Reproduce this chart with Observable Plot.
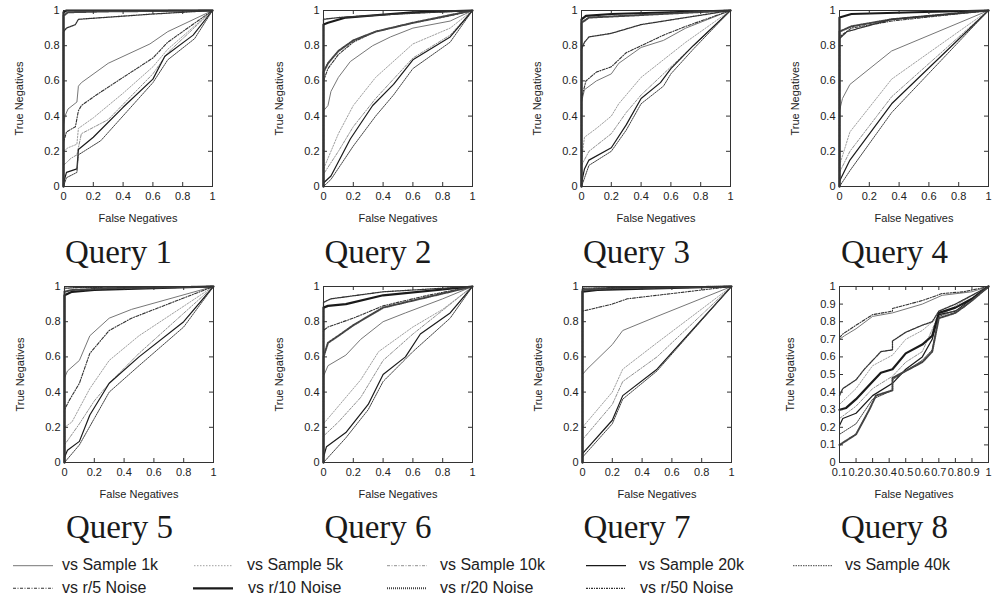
<!DOCTYPE html>
<html><head><meta charset="utf-8">
<script src="https://cdn.jsdelivr.net/npm/d3@7"></script>
<script src="https://cdn.jsdelivr.net/npm/@observablehq/plot@0.6"></script>
<style>
body{margin:0;background:#fff;}
#root{position:relative;width:993px;height:601px;overflow:hidden;}
.panel{position:absolute;}
#overlay{position:absolute;left:0;top:0;}
</style></head>
<body><div id="root"></div>
<script>
// Series (legend order)
const seriesNames = ["vs Sample 1k","vs Sample 5k","vs Sample 10k","vs Sample 20k","vs Sample 40k","vs r/5 Noise","vs r/10 Noise","vs r/20 Noise","vs r/50 Noise"];
const queryLabels = ["Query 1","Query 2","Query 3","Query 4","Query 5","Query 6","Query 7","Query 8"];
const axisXLabel = "False Negatives";
const axisYLabel = "True Negatives";
const ticksCoarse = [0, 0.2, 0.4, 0.6, 0.8, 1];
const ticksFineX = [0.1, 0.2, 0.3, 0.4, 0.5, 0.6, 0.7, 0.8, 0.9, 1];
const ticksFineY = [0, 0.1, 0.2, 0.3, 0.4, 0.5, 0.6, 0.7, 0.8, 0.9, 1];

// Curves per query, in series order: [FN, TN] points
const query1 = [
  [[0,0],[0,0.35],[0.01,0.40],[0.03,0.44],[0.09,0.48],[0.1,0.57],[0.12,0.59],[0.3,0.70],[0.58,0.81],[0.7,0.88],[1,1]],
  [[0,0],[0,0.2],[0.03,0.22],[0.09,0.24],[0.1,0.33],[0.2,0.39],[0.4,0.53],[0.6,0.68],[0.7,0.78],[1,1]],
  [[0,0],[0,0.12],[0.05,0.16],[0.09,0.18],[0.12,0.3],[0.3,0.38],[0.6,0.64],[0.7,0.76],[1,1]],
  [[0,0],[0,0.02],[0.02,0.08],[0.09,0.1],[0.1,0.21],[0.2,0.28],[0.4,0.45],[0.6,0.61],[0.68,0.74],[0.87,0.86],[1,1]],
  [[0,0],[0.02,0.05],[0.09,0.08],[0.1,0.18],[0.25,0.26],[0.6,0.59],[0.7,0.72],[0.88,0.84],[1,1]],
  [[0,0],[0,0.25],[0.02,0.31],[0.08,0.34],[0.1,0.43],[0.12,0.46],[0.22,0.52],[0.4,0.62],[0.6,0.73],[0.7,0.82],[1,1]],
  [[0,0],[0,0.99],[0.02,1],[1,1]],
  [[0,0],[0,0.97],[0.03,0.99],[0.3,0.995],[1,1]],
  [[0,0],[0,0.88],[0.02,0.9],[0.08,0.92],[0.1,0.95],[0.6,0.98],[1,1]]
];
const query2 = [
  [[0,0],[0,0.43],[0.03,0.46],[0.05,0.54],[0.1,0.62],[0.18,0.71],[0.33,0.8],[0.45,0.85],[0.6,0.9],[0.85,0.94],[1,1]],
  [[0,0],[0,0.1],[0.1,0.3],[0.2,0.46],[0.35,0.62],[0.6,0.81],[0.85,0.9],[1,1]],
  [[0,0],[0,0.07],[0.1,0.2],[0.2,0.34],[0.35,0.5],[0.6,0.73],[0.85,0.86],[1,1]],
  [[0,0],[0,0.02],[0.05,0.06],[0.18,0.27],[0.33,0.46],[0.47,0.58],[0.6,0.72],[0.85,0.85],[1,1]],
  [[0,0],[0.05,0.04],[0.2,0.23],[0.35,0.4],[0.47,0.52],[0.6,0.67],[0.85,0.82],[1,1]],
  [[0,0],[0,0.60],[0.03,0.67],[0.1,0.75],[0.2,0.82],[0.35,0.88],[0.6,0.93],[0.85,0.97],[1,1]],
  [[0,0],[0,0.92],[0.03,0.93],[0.15,0.96],[0.6,0.99],[1,1]],
  [[0,0],[0,0.65],[0.03,0.7],[0.1,0.77],[0.2,0.83],[0.35,0.88],[0.6,0.93],[1,1]],
  [[0,0],[0,0.95],[0.1,0.96],[0.5,0.98],[1,1]]
];
const query3 = [
  [[0,0],[0,0.48],[0.02,0.55],[0.1,0.6],[0.2,0.64],[0.25,0.7],[0.4,0.79],[0.55,0.83],[0.7,0.9],[1,1]],
  [[0,0],[0,0.15],[0.02,0.28],[0.1,0.33],[0.2,0.4],[0.25,0.47],[0.4,0.62],[0.55,0.72],[0.7,0.82],[1,1]],
  [[0,0],[0,0.12],[0.05,0.2],[0.2,0.3],[0.3,0.42],[0.4,0.52],[0.6,0.68],[0.75,0.8],[1,1]],
  [[0,0],[0,0.02],[0.02,0.1],[0.05,0.15],[0.2,0.22],[0.3,0.35],[0.4,0.5],[0.53,0.59],[0.6,0.67],[0.75,0.8],[1,1]],
  [[0,0],[0.05,0.12],[0.2,0.2],[0.3,0.32],[0.4,0.47],[0.55,0.57],[0.6,0.64],[0.75,0.78],[1,1]],
  [[0,0],[0,0.5],[0.03,0.6],[0.1,0.65],[0.2,0.68],[0.3,0.76],[0.55,0.86],[0.7,0.91],[1,1]],
  [[0,0],[0,0.95],[0.03,0.97],[0.2,0.98],[1,1]],
  [[0,0],[0,0.93],[0.05,0.96],[0.3,0.97],[1,1]],
  [[0,0],[0,0.78],[0.02,0.82],[0.05,0.85],[0.2,0.87],[0.4,0.92],[0.7,0.96],[1,1]]
];
const query4 = [
  [[0,0],[0,0.43],[0.02,0.5],[0.07,0.58],[0.35,0.77],[1,1]],
  [[0,0],[0,0.12],[0.07,0.31],[0.35,0.61],[1,1]],
  [[0,0],[0,0.08],[0.07,0.2],[0.35,0.51],[1,1]],
  [[0,0],[0,0.03],[0.07,0.15],[0.35,0.47],[1,1]],
  [[0,0],[0.07,0.09],[0.35,0.42],[1,1]],
  [[0,0],[0,0.85],[0.08,0.9],[0.35,0.94],[1,1]],
  [[0,0],[0,0.96],[0.08,0.98],[0.5,0.99],[1,1]],
  [[0,0],[0,0.88],[0.08,0.91],[0.35,0.95],[1,1]],
  [[0,0],[0,0.84],[0.05,0.88],[0.35,0.95],[1,1]]
];
const query5 = [
  [[0,0],[0,0.48],[0.02,0.52],[0.1,0.58],[0.17,0.72],[0.3,0.82],[0.45,0.87],[1,1]],
  [[0,0],[0,0.2],[0.05,0.23],[0.17,0.42],[0.3,0.58],[0.5,0.72],[1,1]],
  [[0,0],[0,0.1],[0.1,0.22],[0.2,0.35],[0.3,0.45],[0.5,0.62],[1,1]],
  [[0,0],[0,0.03],[0.02,0.07],[0.1,0.12],[0.17,0.27],[0.3,0.45],[0.5,0.6],[0.8,0.8],[1,1]],
  [[0,0],[0.1,0.1],[0.2,0.25],[0.3,0.4],[0.5,0.55],[0.8,0.77],[1,1]],
  [[0,0],[0,0.3],[0.03,0.35],[0.1,0.45],[0.17,0.62],[0.3,0.75],[0.45,0.82],[1,1]],
  [[0,0],[0,0.95],[0.05,0.97],[0.2,0.98],[1,1]],
  [[0,0],[0,0.97],[0.05,0.98],[0.3,0.99],[1,1]],
  [[0,0],[0,0.99],[0.1,0.995],[1,1]]
];
const query6 = [
  [[0,0],[0,0.49],[0.03,0.55],[0.15,0.61],[0.25,0.7],[0.4,0.8],[0.55,0.85],[0.8,0.93],[1,1]],
  [[0,0],[0,0.22],[0.1,0.32],[0.25,0.47],[0.37,0.63],[0.6,0.77],[0.8,0.87],[1,1]],
  [[0,0],[0,0.15],[0.1,0.23],[0.25,0.37],[0.4,0.58],[0.6,0.73],[1,1]],
  [[0,0],[0,0.03],[0.02,0.09],[0.15,0.17],[0.3,0.33],[0.4,0.5],[0.55,0.6],[0.65,0.73],[0.85,0.85],[1,1]],
  [[0,0],[0.15,0.14],[0.3,0.3],[0.4,0.46],[0.6,0.63],[0.85,0.82],[1,1]],
  [[0,0],[0,0.75],[0.03,0.77],[0.2,0.82],[0.4,0.89],[0.7,0.95],[1,1]],
  [[0,0],[0,0.88],[0.03,0.89],[0.15,0.9],[0.4,0.95],[1,1]],
  [[0,0],[0,0.6],[0.03,0.68],[0.1,0.72],[0.2,0.78],[0.4,0.88],[0.7,0.94],[1,1]],
  [[0,0],[0,0.91],[0.05,0.93],[0.4,0.97],[1,1]]
];
const query7 = [
  [[0,0],[0,0.5],[0.03,0.53],[0.2,0.67],[0.27,0.75],[0.5,0.83],[1,1]],
  [[0,0],[0,0.2],[0.2,0.4],[0.27,0.53],[0.5,0.68],[1,1]],
  [[0,0],[0,0.13],[0.2,0.33],[0.27,0.46],[0.5,0.6],[1,1]],
  [[0,0],[0,0.05],[0.2,0.24],[0.27,0.38],[0.5,0.53],[1,1]],
  [[0,0],[0,0.03],[0.2,0.22],[0.27,0.36],[0.5,0.52],[1,1]],
  [[0,0],[0,0.86],[0.05,0.87],[0.2,0.9],[0.3,0.93],[0.6,0.96],[1,1]],
  [[0,0],[0,0.97],[0.1,0.98],[1,1]],
  [[0,0],[0,0.98],[0.2,0.99],[1,1]],
  [[0,0],[0,0.99],[0.3,0.995],[1,1]]
];
const query8 = [
  [[0.1,0.7],[0.13,0.72],[0.2,0.76],[0.3,0.83],[0.42,0.85],[0.6,0.9],[0.72,0.95],[0.9,0.97],[1,1]],
  [[0.1,0.33],[0.2,0.42],[0.3,0.55],[0.42,0.61],[0.5,0.7],[0.6,0.75],[0.7,0.83],[0.85,0.92],[1,1]],
  [[0.1,0.25],[0.2,0.32],[0.3,0.42],[0.42,0.49],[0.5,0.57],[0.6,0.63],[0.7,0.84],[0.85,0.9],[1,1]],
  [[0.1,0.21],[0.12,0.25],[0.2,0.28],[0.3,0.38],[0.42,0.45],[0.5,0.53],[0.6,0.6],[0.66,0.7],[0.7,0.84],[0.8,0.86],[1,1]],
  [[0.1,0.16],[0.2,0.22],[0.3,0.36],[0.42,0.41],[0.42,0.47],[0.5,0.52],[0.6,0.58],[0.66,0.64],[0.7,0.83],[0.85,0.88],[1,1]],
  [[0.1,0.71],[0.12,0.73],[0.2,0.78],[0.3,0.84],[0.42,0.86],[0.42,0.875],[0.6,0.92],[0.72,0.96],[0.85,0.97],[1,1]],
  [[0.1,0.3],[0.14,0.31],[0.2,0.36],[0.3,0.46],[0.35,0.51],[0.42,0.53],[0.5,0.62],[0.6,0.67],[0.66,0.72],[0.7,0.85],[0.8,0.88],[0.9,0.93],[1,1]],
  [[0.1,0.1],[0.15,0.13],[0.2,0.16],[0.28,0.3],[0.32,0.38],[0.42,0.41],[0.42,0.48],[0.5,0.52],[0.6,0.57],[0.66,0.63],[0.7,0.82],[0.8,0.85],[0.9,0.92],[1,1]],
  [[0.1,0.38],[0.12,0.42],[0.2,0.47],[0.25,0.53],[0.35,0.63],[0.42,0.64],[0.42,0.69],[0.5,0.74],[0.6,0.78],[0.66,0.8],[0.7,0.86],[0.8,0.9],[1,1]]
];
const queries = [query1, query2, query3, query4, query5, query6, query7, query8];

// Line styles per series
const styles = [
  {stroke:"#777", strokeWidth:1, dash:null},
  {stroke:"#a0a0a0", strokeWidth:1, dash:"1.5,1.5"},
  {stroke:"#909090", strokeWidth:1, dash:"3,1.5,1,1.5"},
  {stroke:"#1a1a1a", strokeWidth:1.2, dash:null},
  {stroke:"#444", strokeWidth:1, dash:"1.5,1"},
  {stroke:"#333", strokeWidth:1.1, dash:"3,1.5,1,1.5"},
  {stroke:"#1a1a1a", strokeWidth:2.2, dash:null},
  {stroke:"#444", strokeWidth:2, dash:"1,1"},
  {stroke:"#333", strokeWidth:1.3, dash:"2,1,1,1"}
];

// Layout
const PW = 149, PH = 176, ML = 62, MR = 8, MT = 8, MB = 44;
const frames = [[63,10],[322.5,10],[581,10],[839,10],[64,286],[322.5,286],[581.5,286],[839,286]];
const root = document.getElementById("root");

queries.forEach((curves, qi) => {
  const fine = qi === 7;
  const xTicks = fine ? ticksFineX : ticksCoarse;
  const yTicks = fine ? ticksFineY : ticksCoarse;
  const fmt = d => String(d);
  const marks = [];
  curves.forEach((pts, si) => {
    const st = styles[si];
    marks.push(Plot.line(pts, {x: d => d[0], y: d => d[1], stroke: st.stroke, strokeWidth: st.strokeWidth, strokeDasharray: st.dash || undefined, strokeLinejoin: "round"}));
  });
  marks.push(
    Plot.frame({stroke: "#333", strokeWidth: 1}),
    Plot.tickY(yTicks, {y: d => d, insetRight: PW - 4, stroke: "#333"}),
    Plot.tickY(yTicks, {y: d => d, insetLeft: PW - 4, stroke: "#333"}),
    Plot.tickX(xTicks, {x: d => d, insetTop: PH - 4, stroke: "#333"}),
    Plot.tickX(xTicks, {x: d => d, insetBottom: PH - 4, stroke: "#333"}),
    Plot.axisX({ticks: xTicks, tickSize: 0, tickPadding: 6, tickFormat: fmt, label: axisXLabel, labelAnchor: "center", labelArrow: "none", labelOffset: 35, fontSize: 11}),
    Plot.axisY({ticks: yTicks, tickSize: 0, tickPadding: 4, tickFormat: fmt, label: axisYLabel, labelAnchor: "center", labelArrow: "none", labelOffset: fine ? 53 : 48, fontSize: 11})
  );
  const chart = Plot.plot({
    width: ML + PW + MR, height: MT + PH + MB,
    marginLeft: ML, marginRight: MR, marginTop: MT, marginBottom: MB,
    x: {domain: fine ? [0.1, 1] : [0, 1]},
    y: {domain: [0, 1]},
    style: {fontFamily: "'Liberation Sans', Arial, sans-serif", fontSize: "11px", color: "#222", background: "transparent", overflow: "visible"},
    marks
  });
  chart.classList.add("panel");
  chart.style.left = (frames[qi][0] - ML) + "px";
  chart.style.top = (frames[qi][1] - MT) + "px";
  root.appendChild(chart);
});

// Overlay: query captions and legend
const svg = d3.select(root).append("svg").attr("id", "overlay").attr("width", 993).attr("height", 601);
queryLabels.forEach((t, qi) => {
  svg.append("text").attr("x", frames[qi][0] + 55.5).attr("y", qi < 4 ? 263 : 538)
    .attr("text-anchor", "middle").attr("font-family", "'Liberation Serif', 'Times New Roman', serif")
    .attr("font-size", 33).attr("fill", "#1a1a1a").text(t);
});
const legendPos = [
  [13,53,62,565.7,570],[194,233,247,565.7,570],[387,427,440,565.7,570],[586,626,639,565.7,570],[793,833,845,565.7,570],
  [13,53,62,588.3,592.5],[193,233,248,588.3,592.5],[387,427,440,588.3,592.5],[586,626,640,588.3,592.5]
];
seriesNames.forEach((name, si) => {
  const [x1, x2, tx, ly, ty] = legendPos[si];
  const st = styles[si];
  svg.append("line").attr("x1", x1).attr("x2", x2).attr("y1", ly).attr("y2", ly)
    .attr("stroke", st.stroke).attr("stroke-width", st.strokeWidth).attr("stroke-dasharray", st.dash);
  svg.append("text").attr("x", tx).attr("y", ty).attr("font-family", "'Liberation Sans', Arial, sans-serif")
    .attr("font-size", 16).attr("fill", "#222").text(name);
});
</script>
</body></html>
